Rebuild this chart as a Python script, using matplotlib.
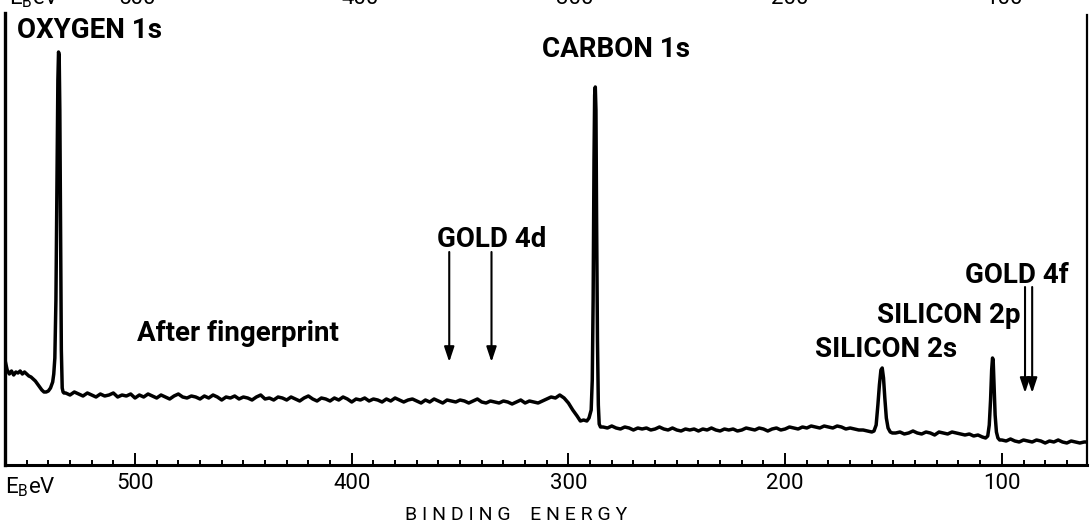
import numpy as np
import matplotlib
matplotlib.use('Agg')
import matplotlib.pyplot as plt
import matplotlib.transforms as mtransforms
from matplotlib.ticker import MultipleLocator

plt.rcParams['font.family'] = ['Roboto', 'DejaVu Sans']
plt.rcParams['mathtext.default'] = 'regular'

# XPS survey spectrum "after fingerprint"
# intensity in arbitrary units, binding energy in eV

# rising background + oxygen 1s peak
ev_o1s = [560, 559, 558, 557, 556, 555, 554, 553, 552, 551, 550, 549, 548, 547,
          546, 545, 544, 543, 542, 541, 540, 539, 538, 537.5, 537, 536.5, 536,
          535.6, 535.3, 535.0, 534.7, 534.3, 534.0, 533.6, 533.2, 532.8]
cts_o1s = [105, 95, 91, 94, 90, 93, 92, 94, 91, 93, 91, 89, 88, 86,
           84, 81, 78, 75, 73, 73, 74, 77, 83, 91, 107, 165, 285,
           385, 413, 410, 355, 215, 115, 77, 73, 72]

# flat region 532 .. 306 eV
ev_flat1 = np.arange(532, 305, -2)
cts_flat1 = [72, 70, 73, 71, 69, 72, 70, 68, 71, 69,
             70, 72, 68, 70, 69, 71, 67, 70, 68, 71,
             69, 67, 70, 68, 66, 69, 71, 68, 67, 69,
             68, 66, 69, 67, 70, 68, 65, 68, 67, 69,
             66, 68, 67, 65, 68, 70, 66, 67, 65, 68,
             67, 65, 68, 66, 64, 67, 69, 66, 64, 67,
             66, 64, 67, 65, 68, 66, 63, 66, 65, 67,
             64, 66, 65, 63, 66, 64, 67, 65, 63, 65,
             66, 64, 62, 65, 63, 66, 64, 62, 65, 64,
             63, 65, 64, 62, 64, 66, 63, 62, 64, 63,
             62, 64, 63, 61, 63, 65, 62, 64, 63, 62,
             64, 66, 68, 67]

# step + carbon 1s peak
ev_c1s = [304, 302, 300, 298, 296, 294.5, 293, 291.5, 290.5, 289.5, 289, 288.6,
          288.2, 287.9, 287.6, 287.3, 287.0, 286.6, 286.2, 285.8, 285.2]
cts_c1s = [70, 67, 62, 55, 49, 44, 45, 44, 47, 55, 85, 165,
           305, 370, 378, 355, 245, 125, 60, 41, 38]

# flat region 284 .. 162 eV
ev_flat2 = np.arange(284, 161, -2)
cts_flat2 = [38, 37, 39, 37, 36, 38, 37, 35, 37, 36,
             37, 35, 36, 38, 36, 35, 37, 35, 34, 36,
             35, 36, 34, 36, 35, 37, 35, 34, 36, 35,
             36, 34, 35, 37, 36, 35, 37, 36, 34, 36,
             37, 35, 36, 38, 37, 36, 38, 37, 39, 38,
             37, 39, 38, 37, 39, 38, 36, 37, 36, 35,
             35, 34]

# silicon 2s
ev_si2s = [160, 159, 158, 157.2, 156.5, 155.8, 155.2, 154.6, 154.0, 153.3, 152.5, 151.5, 150.5]
cts_si2s = [33, 34, 40, 60, 80, 95, 97, 87, 67, 47, 37, 33, 32]

ev_flat3 = np.arange(149, 108, -2)
cts_flat3 = [32, 33, 31, 32, 34, 32, 31, 33, 32, 30, 33, 32, 31, 33, 32, 31, 30, 31, 29, 30, 28]

# silicon 2p
ev_si2p = [107.5, 106.5, 105.8, 105.2, 104.7, 104.3, 104.0, 103.6, 103.1, 102.5, 101.8, 101.0]
cts_si2p = [27, 29, 40, 65, 95, 107, 105, 80, 50, 33, 27, 25]

ev_flat4 = list(np.arange(100, 61, -2)) + [60.7]
cts_flat4 = [25, 24, 26, 24, 23, 25, 24, 23, 25, 24,
             22, 24, 23, 25, 23, 22, 24, 23, 22, 23, 23]

gold_4d_ev = [355.0, 335.5]
gold_4f_ev = [89.3, 86.0]

energy = np.concatenate([ev_o1s, ev_flat1, ev_c1s, ev_flat2, ev_si2s,
                         ev_flat3, ev_si2p, ev_flat4])
counts = np.concatenate([cts_o1s, cts_flat1, cts_c1s, cts_flat2, cts_si2s,
                         cts_flat3, cts_si2p, cts_flat4])

fig = plt.figure(figsize=(10.91, 5.30), dpi=100)
ax = fig.add_axes([5 / 1091, 65 / 530, 1082 / 1091, 465 / 530])

ax.plot(energy, counts, color='black', lw=2.5, solid_joinstyle='round')

ax.set_xlim(560, 60.7)
ax.set_ylim(0, 465)

ax.spines['top'].set_visible(False)
ax.spines['bottom'].set_linewidth(2.2)
ax.spines['left'].set_linewidth(2.4)
ax.spines['right'].set_linewidth(1.6)
ax.spines['left'].set_bounds(0, 452)
ax.spines['right'].set_bounds(0, 450)

ax.set_yticks([])
ax.xaxis.set_major_locator(MultipleLocator(100))
ax.xaxis.set_minor_locator(MultipleLocator(10))
ax.tick_params(axis='x', which='major', direction='in', length=8.5, width=1.4,
               pad=6, labelsize=16)
ax.tick_params(axis='x', which='minor', direction='in', length=3.6, width=1.4)

ax.text(560, -28, r'E$_{B}$eV', fontsize=16, ha='left', va='baseline', clip_on=False)
ax.set_xlabel('B I N D I N G    E N E R G Y', fontsize=14)
ax.xaxis.set_label_coords((516.5 - 5) / 1082, -41 / 465)

# tick labels of the panel above, cut by the page edge
top_tr = mtransforms.blended_transform_factory(ax.transData, fig.transFigure)
for e, lab in zip([499, 396, 297, 198, 99], ['500', '400', '300', '200', '100']):
    fig.text(e, 1 - 4 / 530, lab, transform=top_tr, fontsize=16,
             ha='center', va='baseline')
fig.text(558, 1 - 4 / 530, r'E$_{B}$eV', transform=top_tr, fontsize=16,
         ha='left', va='baseline')

lbl = dict(fontsize=20, fontweight='bold', ha='left', va='baseline')
ax.text(554.5, 427, 'OXYGEN 1s', **lbl)
ax.text(312.2, 408, 'CARBON 1s', **lbl)
ax.text(360.6, 218, 'GOLD 4d', **lbl)
ax.text(499.1, 124, 'After fingerprint', **lbl)
ax.text(186.2, 108, 'SILICON 2s', **lbl)
ax.text(157.6, 142, 'SILICON 2p', **lbl)
ax.text(117.0, 182, 'GOLD 4f', **lbl)

arrow = dict(arrowstyle='-|>,head_length=0.9,head_width=0.3', color='black',
             lw=1.5, shrinkA=0, shrinkB=0)
for e in gold_4d_ev:
    ax.annotate('', xy=(e, 103), xytext=(e, 213), arrowprops=arrow)
for e in gold_4f_ev:
    ax.annotate('', xy=(e, 72), xytext=(e, 178), arrowprops=arrow)

fig.savefig('out.png', dpi=100)
